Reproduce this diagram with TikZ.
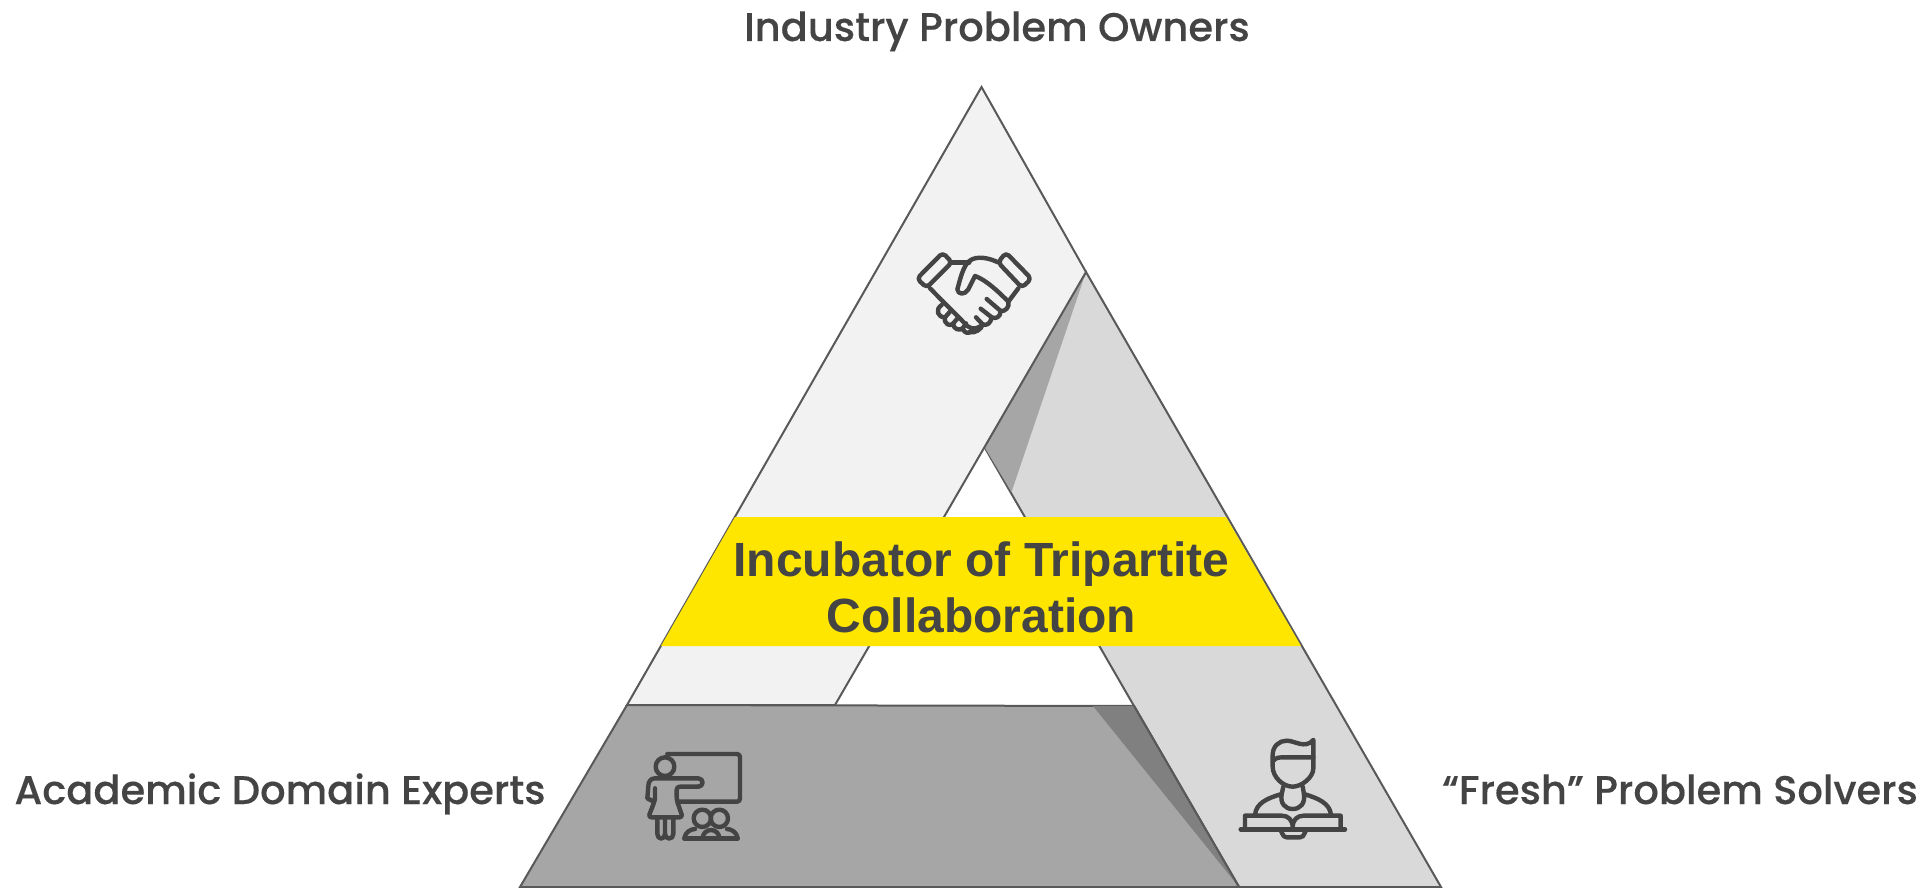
\documentclass[tikz,border=0pt]{standalone}
\usepackage{fontspec}
\setmainfont{Liberation Sans}
\newfontfamily\labelfont[FakeBold=0.25]{Poppins Medium}
\definecolor{ink}{HTML}{444444}
\definecolor{edge}{HTML}{595959}
\definecolor{bandlight}{HTML}{F2F2F2}
\definecolor{bandmid}{HTML}{D9D9D9}
\definecolor{banddark}{HTML}{A6A6A6}
\definecolor{shadedark}{HTML}{808080}
\definecolor{accent}{HTML}{FFE600}
\tikzset{
  band/.style={draw=edge,line width=2pt,line join=miter},
  icon/.style={draw=ink,line width=4.4pt,line cap=round,line join=round,fill=none},
  sidelabel/.style={text=ink,inner sep=0pt,anchor=base,font=\labelfont\fontsize{40}{46}\selectfont},
  titlelabel/.style={text=ink,inner sep=0pt,align=center,font=\bfseries\fontsize{48}{56}\selectfont}
}
\begin{document}
\begin{tikzpicture}[x=1pt,y=-1pt]
\useasboundingbox (0,0) rectangle (1931,888);
\fill[white] (0,0) rectangle (1931,888);
% bands
\path[band,fill=bandmid] (1086,272) -- (1441,887) -- (1239,887) -- (1134,706) -- (985,448) -- cycle;
\fill[banddark] (1086,272) -- (985,448) -- (1011.5,492) -- cycle;
\path[band,fill=bandlight] (981.5,87) -- (1086,272) -- (835,705) -- (627,705) -- cycle;
\path[band,fill=banddark] (627,705) -- (1134,706) -- (1239,887) -- (520,887) -- cycle;
\fill[shadedark] (1093,706) -- (1134,706) -- (1239,887) -- cycle;
\draw[edge,line width=2pt] (1134,706) -- (1239,887);
% yellow band
\fill[accent] (735,517) -- (1226,517) -- (1301,646) -- (661,646) -- cycle;
% handshake
\begin{scope}[shift={(880,230)},scale=1/3]
  \draw[icon,rounded corners=4pt] (188,68) -- (216,97) -- (140,173) -- (111,146) -- cycle;
  \draw[icon,rounded corners=4pt] (378,68) -- (354,97) -- (426,173) -- (454,146) -- cycle;
  \draw[icon] (214,97) -- (268,97);
  \draw[icon] (354,97) .. controls (330,85) and (290,75) .. (268,93) .. controls (248,110) and (240,150) .. (232,178) .. controls (234,195) and (255,195) .. (265,178) -- (285,138) .. controls (320,150) and (360,190) .. (385,215) .. controls (390,232) and (375,245) .. (362,243) .. controls (362,262) and (345,268) .. (335,262) .. controls (332,282) and (318,288) .. (308,283) .. controls (305,298) and (285,310) .. (268,307);
  \draw[icon] (150,175) -- (262,288) .. controls (275,298) and (290,300) .. (308,283);
  \draw[icon] (415,175) -- (385,215);
  \draw[icon] (320,207) -- (362,243);
  \draw[icon] (302,236) -- (335,262);
  \draw[icon] (288,262) -- (308,283);
  \draw[icon] (185,225) .. controls (165,238) and (172,262) .. (195,262) -- (210,245);
  \draw[icon] (195,262) .. controls (190,282) and (212,292) .. (220,280) -- (235,262);
  \draw[icon] (220,280) .. controls (220,300) and (240,302) .. (248,295) -- (258,280);
  \draw[icon] (248,295) .. controls (250,305) and (262,312) .. (268,307);
\end{scope}
% teacher
\begin{scope}[shift={(630,730)},scale=1/3]
  \draw[icon,rounded corners=3pt] (112,72) -- (330,72) -- (330,215) -- (145,215);
  \draw[icon] (105,110) circle[radius=28];
  \draw[icon,rounded corners=3pt] (75,175) -- (75,210) -- (55,262) -- (158,262) -- (140,210) -- (140,170) -- (205,170);
  \draw[icon] (205,170) .. controls (222,170) and (222,145) .. (205,145) -- (75,145) .. controls (62,145) and (55,155) .. (55,168) -- (52,205) -- (68,213);
  \draw[icon] (82,262) -- (82,312) .. controls (82,330) and (105,330) .. (105,312) -- (105,262);
  \draw[icon] (105,312) .. controls (105,330) and (130,330) .. (130,312) -- (130,262);
  \draw[icon] (217,265) circle[radius=26];
  \draw[icon] (268,265) circle[radius=26];
  \draw[icon] (163,325) -- (323,325);
  \draw[icon] (163,325) .. controls (165,305) and (185,297) .. (195,297);
  \draw[icon] (323,325) .. controls (321,305) and (301,297) .. (291,297);
  \draw[icon] (218,325) .. controls (218,310) and (230,300) .. (243,300) .. controls (256,300) and (268,310) .. (268,325);
\end{scope}
% student
\begin{scope}[shift={(1220,720)},scale=1/3]
  \draw[icon] (160,122) .. controls (170,112) and (178,112) .. (185,112) -- (280,112);
  \draw[icon] (280,60) -- (280,145) .. controls (280,172) and (245,200) .. (218,200) .. controls (190,200) and (158,172) .. (158,140) -- (158,105) .. controls (158,78) and (178,62) .. (200,62) .. controls (225,62) and (255,88) .. (280,60);
  \draw[icon] (105,285) .. controls (108,250) and (140,235) .. (185,222);
  \draw[icon] (333,285) .. controls (330,250) and (295,235) .. (252,222);
  \draw[icon] (185,222) .. controls (180,250) and (195,267) .. (218,267) .. controls (241,267) and (256,250) .. (252,222);
  \draw[icon] (190,200) -- (185,222);
  \draw[icon] (248,200) -- (252,222);
  \draw[icon] (75,326) -- (75,287) -- (185,287) .. controls (205,287) and (218,300) .. (218,322) .. controls (218,300) and (231,287) .. (251,287) -- (362,287) -- (362,326);
  \draw[icon] (62,328) -- (375,328);
  \draw[icon] (178,328) .. controls (188,332) and (185,352) .. (200,352) -- (240,352) .. controls (255,352) and (252,332) .. (262,328);
\end{scope}
% text
\node[sidelabel] (owners) at (997,41) {Industry Problem Owners};
\node[sidelabel] (experts) at (280,804) {Academic Domain Experts};
\node[sidelabel] (solvers) at (1680,804) {“Fresh” Problem Solvers};
\node[titlelabel] (title) at (981.5,587.5) {Incubator of Tripartite\\Collaboration};
\end{tikzpicture}
\end{document}
